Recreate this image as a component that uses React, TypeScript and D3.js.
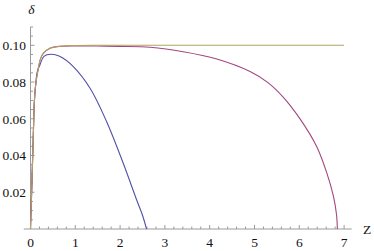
import * as d3 from 'd3';

// values (z, delta)
const riseZ = [0, 0.004, 0.026, 0.041, 0.063, 0.086, 0.115];
const riseD = [0, 0.004, 0.0203, 0.033, 0.0512, 0.0693, 0.0784];

const blueZ = [0.15, 0.21, 0.3, 0.46, 0.65, 0.955, 1.33, 1.7, 2.07, 2.37, 2.5, 2.59];
const blueD = [0.0855, 0.0893, 0.094, 0.0951, 0.094, 0.0884, 0.0766, 0.0584, 0.0358, 0.0158, 0.0075, 0];

const purpleZ = [0.175, 0.227, 0.286, 0.435, 0.7, 1.0, 1.5, 2.0, 2.67, 3.41, 4.16, 4.9, 5.3, 5.64, 6.02, 6.39, 6.61, 6.76, 6.83, 6.85];
const purpleD = [0.0875, 0.0929, 0.0956, 0.0984, 0.0995, 0.0997, 0.0996, 0.0994, 0.0989, 0.0965, 0.0925, 0.0857, 0.0797, 0.0718, 0.0598, 0.0448, 0.0308, 0.018, 0.008, 0];

const yellowZ = [0.175, 0.227, 0.286, 0.435, 0.7, 1.0, 1.5, 2.0, 7.0];
const yellowD = [0.0875, 0.0929, 0.0956, 0.0984, 0.0996, 0.0999, 0.1, 0.1, 0.1];

const xTickLabels = [0, 1, 2, 3, 4, 5, 6, 7];
const yTickLabels = [0.02, 0.04, 0.06, 0.08, 0.1];

type Pt = [number, number];
const zip = (zs: number[], ds: number[]): Pt[] => zs.map((z, i) => [z, ds[i]]);
const rise = zip(riseZ, riseD);

const series = [
  { name: 'blue', color: '#5050aa', pts: [...rise, ...zip(blueZ, blueD)] },
  { name: 'purple', color: '#a2477f', pts: [...rise, ...zip(purpleZ, purpleD)] },
  { name: 'yellow', color: '#b3a262', pts: [...rise, ...zip(yellowZ, yellowD)] },
];

const width = 374;
const height = 251;
const axisColor = '#9a9a9a';
const font = '"Liberation Serif", "Times New Roman", serif';

export default function App() {
  const x = d3.scaleLinear().domain([0, 7]).range([30.5, 344.1]);
  const y = d3.scaleLinear().domain([0, 0.1]).range([229, 45.3]);

  const line = d3.line<Pt>()
    .x((d) => x(d[0]))
    .y((d) => y(d[1]))
    .curve(d3.curveCatmullRom.alpha(0.5));

  const xMinor = d3.range(0, 7.17, 0.2).filter((v) => Math.abs(v - Math.round(v)) > 1e-6);
  const yMinor = d3.range(0.005, 0.1101, 0.005).filter((v) => Math.abs(v / 0.02 - Math.round(v / 0.02)) > 1e-6);

  return (
    <svg width={width} height={height} style={{ position: 'absolute', left: 0, top: 0, background: 'white' }}>
      {/* axes */}
      <line x1={x(-0.15)} x2={x(7.17)} y1={y(0)} y2={y(0)} stroke={axisColor} strokeWidth={1} />
      <line x1={x(0)} x2={x(0)} y1={y(0)} y2={y(0.11)} stroke={axisColor} strokeWidth={1} />
      {xTickLabels.map((t) => (
        <line key={'xt' + t} x1={x(t)} x2={x(t)} y1={y(0)} y2={y(0) - 4} stroke={axisColor} />
      ))}
      {xMinor.map((t) => (
        <line key={'xm' + t} x1={x(t)} x2={x(t)} y1={y(0)} y2={y(0) - 2.5} stroke={axisColor} />
      ))}
      {yTickLabels.map((t) => (
        <line key={'yt' + t} x1={x(0)} x2={x(0) + 4} y1={y(t)} y2={y(t)} stroke={axisColor} />
      ))}
      {yMinor.map((t) => (
        <line key={'ym' + t} x1={x(0)} x2={x(0) + 2.5} y1={y(t)} y2={y(t)} stroke={axisColor} />
      ))}

      {/* curves */}
      {series.map((s) => (
        <path key={s.name} d={line(s.pts) || ''} fill="none" stroke={s.color} strokeWidth={1.1} />
      ))}

      {/* labels */}
      <g fontFamily={font} fontSize={13.5} fill="#111">
        {xTickLabels.map((t) => (
          <text key={'xl' + t} x={x(t)} y={247} textAnchor="middle">{t}</text>
        ))}
        {yTickLabels.map((t) => (
          <text key={'yl' + t} x={26} y={y(t)} dy="0.35em" textAnchor="end">{t.toFixed(2)}</text>
        ))}
        <text x={31.5} y={14} textAnchor="middle" fontStyle="italic">δ</text>
        <text x={363} y={233.5}>Z</text>
      </g>
    </svg>
  );
}
